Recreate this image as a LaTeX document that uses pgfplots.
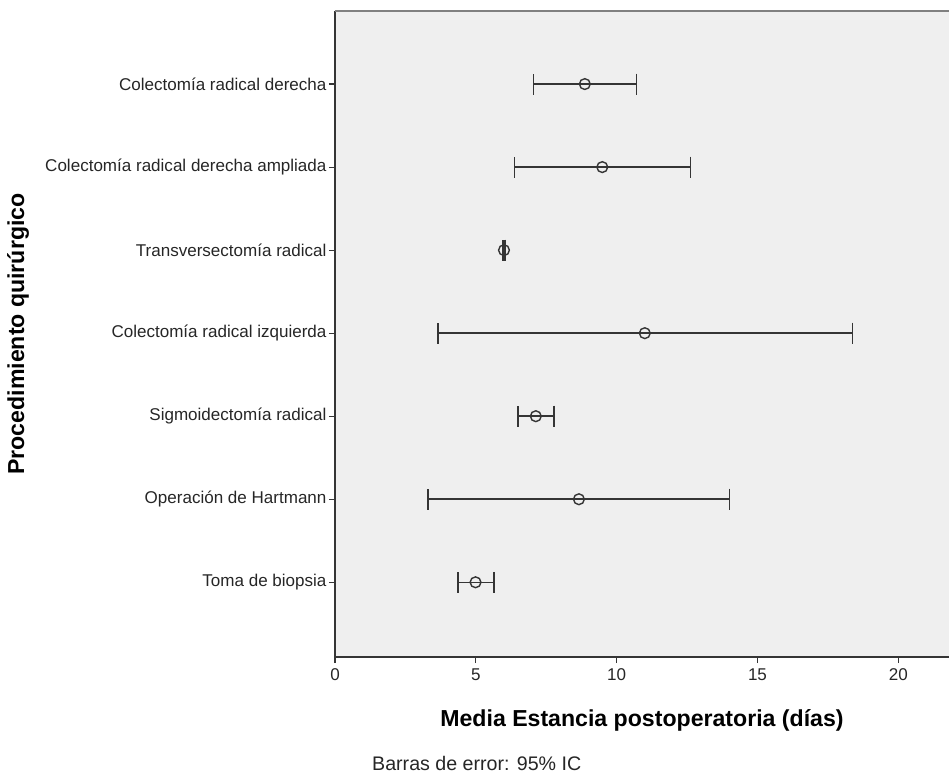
\documentclass[border=0pt]{standalone}
\usepackage{pgfplots}
\pgfplotsset{compat=1.18}
\usepackage{fontspec}
\setmainfont{Liberation Sans}
\definecolor{bg}{HTML}{EFEFEF}
\definecolor{ink}{HTML}{353535}
\begin{document}
\begin{tikzpicture}
\path[use as bounding box] (-335bp,-117bp) rectangle (614bp,657bp);
\begin{axis}[
  at={(0,0)}, anchor=south west,
  scale only axis, width=614bp, height=646bp,
  xmin=0, xmax=21.8, ymin=0.12, ymax=7.9, y dir=reverse,
  axis background/.style={fill=bg},
  axis x line*=bottom, axis y line*=left,
  every outer x axis line/.append style={-},
  every outer y axis line/.append style={-},
  axis line style={-, draw=ink, line width=1.3bp},
  hide obscured x ticks=false,
  xtick={0,5,10,15,20},
  ytick={1,2,3,4,5,6,7},
  yticklabels={Colectomía radical derecha, Colectomía radical derecha ampliada, Transversectomía radical, Colectomía radical izquierda, Sigmoidectomía radical, Operación de Hartmann, Toma de biopsia},
  tick align=outside, major tick length=6bp,
  tick style={draw=ink, line width=1.2bp},
  /pgf/number format/assume math mode=true,
  ticklabel style={font=\fontsize{17.1}{20}\selectfont, text=black!85},
  xticklabel style={yshift=-2bp},
  yticklabel style={xshift=1bp},
  xlabel={Media Estancia postoperatoria (días)},
  ylabel={Procedimiento quirúrgico},
  label style={font=\bfseries\fontsize{23.2}{26}\selectfont},
  xlabel style={at={(axis description cs:0.5,0)}, anchor=center, yshift=-63bp},
  ylabel style={at={(axis description cs:0,0.5)}, anchor=center, yshift=317bp},
  clip=false,
]
\addplot[only marks, mark=o, mark size=5.4bp,
  mark options={line width=1.4bp, draw=ink, fill=bg},
  error bars/.cd, x dir=both, x explicit,
  error bar style={line width=1.5bp, draw=ink},
  error mark options={rotate=90, mark size=10.5bp, line width=1.5bp, draw=ink}]
coordinates {
  (8.87,1) += (1.84,0) -= (1.83,0)
  (9.49,2) += (3.13,0) -= (3.11,0)
  (6.00,3) += (0.03,0) -= (0.03,0)
  (11.00,4) += (7.37,0) -= (7.35,0)
  (7.13,5) += (0.65,0) -= (0.63,0)
  (8.66,6) += (5.35,0) -= (5.35,0)
  (4.99,7) += (0.65,0) -= (0.62,0)
};
\draw[draw=black!50, line width=1.3bp] (axis description cs:0,1) -- (axis description cs:1,1);
\node[anchor=base west, inner sep=0pt, font=\fontsize{19.7}{22}\selectfont, text=black!85] at (axis description cs:0,0) [xshift=37bp, yshift=-113bp] {Barras de error: 95\% IC};
\end{axis}
\end{tikzpicture}
\end{document}
